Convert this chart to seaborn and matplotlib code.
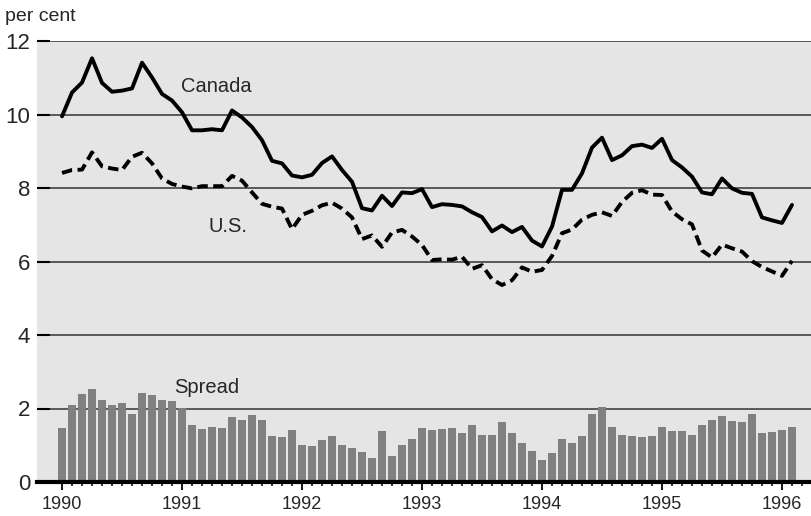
import numpy as np
import pandas as pd
import matplotlib as mpl
import matplotlib.pyplot as plt
import seaborn as sns

sns.set_style('white')
mpl.rcParams['font.family'] = ['Liberation Sans', 'DejaVu Sans']

# monthly, Jan 1990 .. Feb 1996 (month index 0 = Jan 1990)
canada = [9.95, 10.60, 10.87, 11.53, 10.86, 10.62, 10.65, 10.71, 11.41, 11.01,
          10.56, 10.38, 10.06, 9.57, 9.57, 9.60, 9.57, 10.11, 9.92, 9.66,
          9.30, 8.74, 8.67, 8.34, 8.29, 8.36, 8.68, 8.86, 8.49, 8.17,
          7.45, 7.39, 7.79, 7.51, 7.88, 7.86, 7.97, 7.48, 7.56, 7.54,
          7.50, 7.34, 7.21, 6.82, 6.98, 6.80, 6.94, 6.57, 6.41, 6.95,
          7.95, 7.95, 8.40, 9.10, 9.37, 8.76, 8.89, 9.14, 9.18, 9.09,
          9.34, 8.76, 8.56, 8.31, 7.88, 7.83, 8.26, 7.99, 7.87, 7.84,
          7.20, 7.12, 7.05, 7.54]
us = [8.41, 8.49, 8.50, 8.97, 8.59, 8.53, 8.49, 8.85, 8.96, 8.67,
      8.26, 8.11, 8.04, 7.99, 8.05, 8.05, 8.05, 8.33, 8.20, 7.88,
      7.57, 7.49, 7.44, 6.88, 7.27, 7.38, 7.53, 7.60, 7.44, 7.20,
      6.61, 6.71, 6.40, 6.79, 6.86, 6.68, 6.45, 6.04, 6.06, 6.05,
      6.13, 5.80, 5.90, 5.52, 5.36, 5.49, 5.84, 5.72, 5.77, 6.15,
      6.77, 6.87, 7.14, 7.27, 7.34, 7.24, 7.62, 7.87, 7.94, 7.82,
      7.81, 7.36, 7.15, 7.01, 6.30, 6.11, 6.46, 6.36, 6.27, 6.01,
      5.85, 5.73, 5.61, 6.02]
spread = [1.48, 2.09, 2.40, 2.54, 2.23, 2.09, 2.15, 1.85, 2.43, 2.37,
          2.23, 2.20, 2.01, 1.56, 1.45, 1.51, 1.48, 1.76, 1.70, 1.81,
          1.70, 1.26, 1.23, 1.42, 1.00, 0.98, 1.14, 1.26, 1.00, 0.92,
          0.81, 0.64, 1.40, 0.70, 1.00, 1.17, 1.48, 1.42, 1.45, 1.48,
          1.34, 1.56, 1.28, 1.28, 1.62, 1.34, 1.06, 0.84, 0.61, 0.78,
          1.17, 1.06, 1.26, 1.84, 2.04, 1.51, 1.28, 1.26, 1.23, 1.26,
          1.51, 1.40, 1.40, 1.28, 1.56, 1.70, 1.79, 1.65, 1.62, 1.84,
          1.34, 1.37, 1.42, 1.51]
years = ['1990', '1991', '1992', '1993', '1994', '1995', '1996']

months = np.arange(len(canada))
df = pd.DataFrame({'month': months, 'canada': canada, 'us': us, 'spread': spread})

fig = plt.figure(figsize=(8.12, 5.16), dpi=100)
ax = fig.add_axes([0.0456, 0.0659, 0.9544, 0.8546])
ax.set_facecolor('#e5e5e5')

ax.set_axisbelow(True)
ax.yaxis.grid(True, color='#333333', linewidth=1.1)
ax.xaxis.grid(False)

sns.barplot(data=df, x='month', y='spread', native_scale=True, color='#808080',
            saturation=1, width=0.8, linewidth=0, ax=ax, zorder=2)
sns.lineplot(data=df, x='month', y='us', color='black', linewidth=2.8,
             linestyle=(0, (2.7, 1.4)), ax=ax, zorder=3)
sns.lineplot(data=df, x='month', y='canada', color='black', linewidth=2.8,
             ax=ax, zorder=3)

ax.set_xlim(-2.5, 75)
ax.set_ylim(0, 12)
ax.set_xticks(np.arange(len(years)) * 12)
ax.set_xticklabels(years)
ax.set_xticks(np.arange(0, 75), minor=True)
ax.set_yticks(np.arange(0, 13, 2))
ax.set_xlabel('')
ax.set_ylabel('')

for s in ['top', 'left', 'right']:
    ax.spines[s].set_visible(False)
ax.spines['bottom'].set_linewidth(3)
ax.spines['bottom'].set_color('black')
ax.spines['bottom'].set_zorder(4)

ax.tick_params(axis='x', which='major', direction='out', length=6, width=1.3,
               color='black', labelsize=13, pad=4, bottom=True)
ax.tick_params(axis='x', which='minor', direction='out', length=3, width=1.1,
               color='black', bottom=True)
ax.tick_params(axis='y', which='major', direction='in', length=9.5, width=1.5,
               color='black', labelsize=16, pad=5, left=True)

ax.text(11.9, 10.75, 'Canada', fontsize=14.5, ha='left', va='center')
ax.text(14.6, 6.94, 'U.S.', fontsize=14.5, ha='left', va='center')
ax.text(11.2, 2.56, 'Spread', fontsize=14.5, ha='left', va='center')
fig.text(0.006, 0.985, 'per cent', fontsize=14, ha='left', va='top')

fig.savefig('out.png', dpi=100)
